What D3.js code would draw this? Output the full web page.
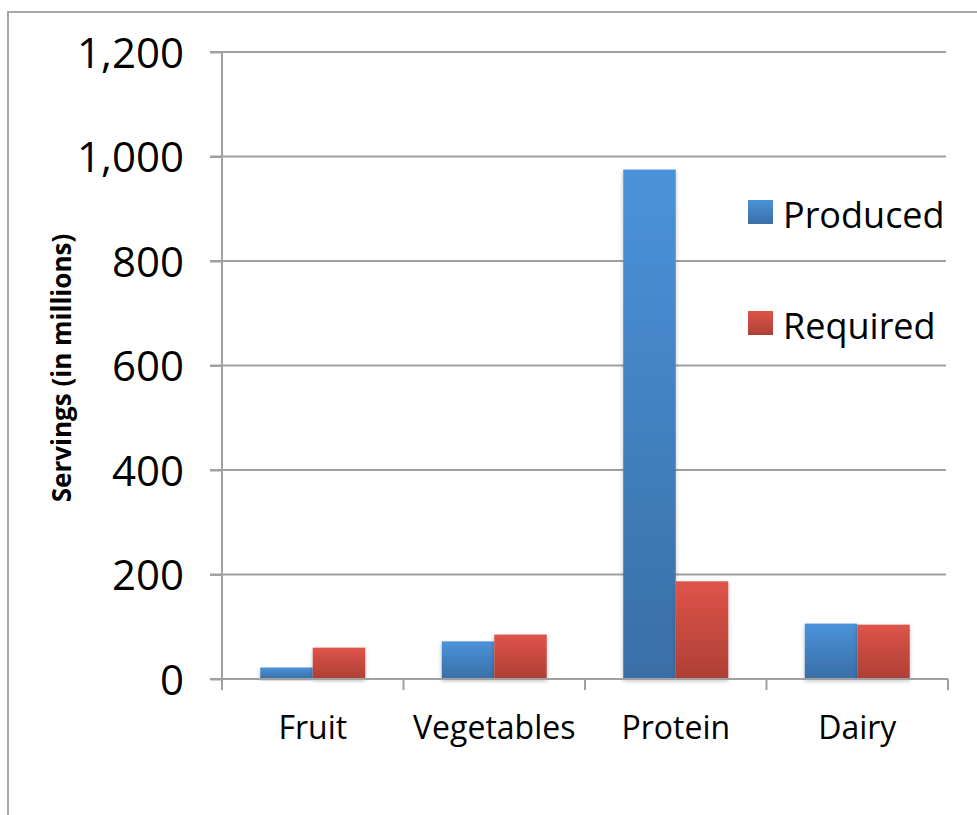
<!DOCTYPE html>
<html>
<head>
<meta charset="utf-8">
<script src="https://cdn.jsdelivr.net/npm/d3@7"></script>
<style>
  body { margin: 0; background: #fff; }
  text { font-family: "Open Sans", sans-serif; fill: #000; }
</style>
</head>
<body>
<div id="chart"></div>
<script>
const categories = ["Fruit", "Vegetables", "Protein", "Dairy"];
const seriesNames = ["Produced", "Required"];
const produced = [22, 72, 975, 106];
const required = [60, 85, 187, 104];
const yTicks = [0, 200, 400, 600, 800, 1000, 1200];

const W = 977, H = 815;
const margin = { top: 52, right: 29, bottom: 136, left: 222 },
      width = W - margin.left - margin.right,
      height = H - margin.top - margin.bottom;

const svg = d3.select("#chart").append("svg")
  .attr("width", W)
  .attr("height", H);

// outer chart border (runs off the right and bottom edges)
svg.append("path")
  .attr("d", `M8,${H + 5}V12H${W + 5}`)
  .attr("fill", "none")
  .attr("stroke", "#a6a6a6")
  .attr("stroke-width", 2);

const defs = svg.append("defs");
const grads = [
  { id: "gBlue", top: "#4a93da", bottom: "#3a6ea6" },
  { id: "gRed", top: "#de5449", bottom: "#ae3f35" }
];
grads.forEach(g => {
  const lg = defs.append("linearGradient").attr("id", g.id)
    .attr("x1", 0).attr("y1", 0).attr("x2", 0).attr("y2", 1);
  lg.append("stop").attr("offset", "0%").attr("stop-color", g.top);
  lg.append("stop").attr("offset", "100%").attr("stop-color", g.bottom);
});
defs.append("filter").attr("id", "shadow")
  .attr("x", "-20%").attr("y", "-5%").attr("width", "140%").attr("height", "115%")
  .append("feDropShadow")
  .attr("dx", 0).attr("dy", 2).attr("stdDeviation", 2)
  .attr("flood-color", "#000").attr("flood-opacity", 0.25);

const g = svg.append("g")
  .attr("transform", `translate(${margin.left},${margin.top})`);

const x0 = d3.scaleBand().domain(categories).range([0, width]);
const x1 = d3.scaleBand().domain(seriesNames)
  .range([x0.bandwidth() / 2 - 52.5, x0.bandwidth() / 2 + 52.5]);
const y = d3.scaleLinear().domain([0, 1200]).range([height, 0]);
const color = d3.scaleOrdinal().domain(seriesNames).range(["url(#gBlue)", "url(#gRed)"]);

// gridlines
g.append("g")
  .selectAll("line")
  .data(yTicks.slice(1))
  .enter().append("line")
  .attr("x1", -12).attr("x2", width - 2)
  .attr("y1", d => y(d)).attr("y2", d => y(d))
  .attr("stroke", "#a0a0a0")
  .attr("stroke-width", 2);

// y axis
const yAxis = g.append("g")
  .call(d3.axisLeft(y).tickValues(yTicks).tickSize(12).tickPadding(26)
    .tickFormat(d3.format(",")));
yAxis.select(".domain").attr("stroke", "#a0a0a0").attr("stroke-width", 2)
  .attr("d", `M0,${height}V0`);
yAxis.selectAll(".tick line").attr("stroke", "#a0a0a0").attr("stroke-width", 2);
yAxis.selectAll(".tick text")
  .style("font-family", "'Open Sans', sans-serif")
  .style("font-size", "42px")
  .attr("dy", "0.36em");

// bars
const data = categories.map((c, i) => ({
  cat: c,
  vals: [{ s: "Produced", v: produced[i] }, { s: "Required", v: required[i] }]
}));

g.selectAll("g.bar-group")
  .data(data)
  .enter().append("g")
  .attr("class", "bar-group")
  .attr("transform", d => `translate(${x0(d.cat)},0)`)
  .selectAll("rect")
  .data(d => d.vals)
  .enter().append("rect")
  .attr("x", d => x1(d.s))
  .attr("y", d => y(d.v))
  .attr("width", x1.bandwidth())
  .attr("height", d => height - y(d.v))
  .attr("fill", d => color(d.s))
  .attr("filter", "url(#shadow)");

// x axis
const xAxis = g.append("g")
  .attr("transform", `translate(0,${height})`)
  .call(d3.axisBottom(x0).tickSize(0).tickPadding(37));
xAxis.select(".domain").attr("stroke", "#a0a0a0").attr("stroke-width", 2)
  .attr("d", `M-12,0H${width}`);
xAxis.selectAll(".tick text")
  .style("font-family", "'Open Sans', sans-serif")
  .style("font-size", "32px")
  .attr("dy", "0.71em");
g.append("g")
  .selectAll("line")
  .data(categories.map(c => x0(c)).concat([width]))
  .enter().append("line")
  .attr("x1", d => d).attr("x2", d => d)
  .attr("y1", height).attr("y2", height + 11)
  .attr("stroke", "#a0a0a0")
  .attr("stroke-width", 2);

// Label Y
svg.append("text")
  .attr("transform", "translate(71,368) rotate(-90)")
  .attr("text-anchor", "middle")
  .style("font-size", "26px")
  .style("font-weight", "bold")
  .text("Servings (in millions)");

// legend
const legend = svg.append("g").attr("transform", "translate(748,200)");
seriesNames.forEach((s, i) => {
  const item = legend.append("g").attr("transform", `translate(0,${i * 111})`);
  item.append("rect")
    .attr("width", 25).attr("height", 24)
    .attr("fill", color(s));
  item.append("text")
    .attr("x", 35).attr("y", 28)
    .style("font-size", "36px")
    .text(s);
});
</script>
</body>
</html>
